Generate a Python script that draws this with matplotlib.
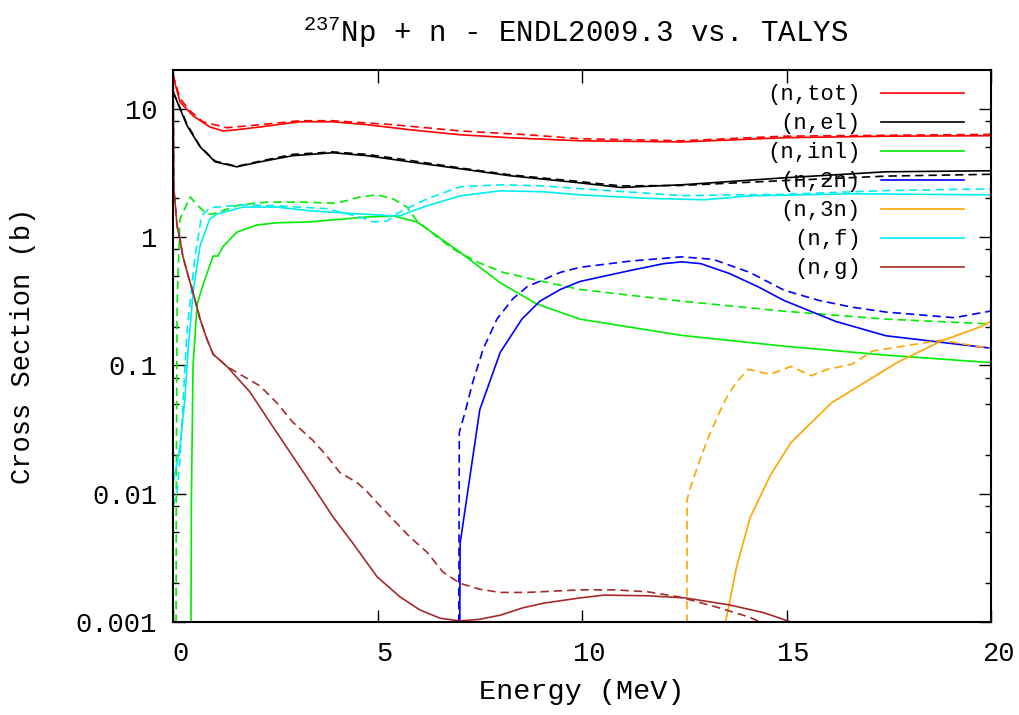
import matplotlib
matplotlib.use("Agg")
import matplotlib.pyplot as plt
from matplotlib.ticker import FixedLocator, FixedFormatter, NullFormatter
from matplotlib.transforms import ScaledTranslation

# ---- cross-section data: energy in MeV, cross section in barns ----
# (n,tot)
tot_endl_E = [0.0, 0.17, 0.49, 0.90, 1.22, 1.56, 2.13, 3.1, 3.9, 4.74, 5.79, 7.02, 8.24, 9.95, 12.44, 14.94, 17.43, 20.0]
tot_endl = [18.0, 11.3, 8.8, 7.2, 6.7, 6.85, 7.2, 7.9, 7.9, 7.5, 6.85, 6.26, 5.93, 5.62, 5.5, 5.93, 6.1, 6.15]
tot_talys_E = [0.0, 0.17, 0.42, 0.73, 1.32, 2.13, 3.1, 3.9, 5.38, 7.02, 8.66, 9.95, 12.44, 14.94, 17.43, 20.0]
tot_talys = [18.5, 12.0, 9.6, 7.9, 7.1, 7.5, 8.05, 8.05, 7.5, 6.7, 6.26, 5.83, 5.62, 6.1, 6.2, 6.3]

# (n,el)
el_E = [0.0, 0.34, 0.66, 1.03, 1.56, 2.13, 2.93, 3.91, 4.74, 5.79, 7.02, 8.24, 9.95, 10.95, 12.44, 14.94, 17.43, 20.0]
el_endl = [13.6, 7.4, 5.05, 3.85, 3.52, 3.85, 4.3, 4.53, 4.3, 3.85, 3.4, 3.0, 2.64, 2.43, 2.55, 2.89, 3.22, 3.28]
el_talys = [13.6, 7.6, 5.1, 3.9, 3.55, 3.9, 4.4, 4.6, 4.4, 3.95, 3.45, 3.05, 2.7, 2.5, 2.52, 2.75, 2.98, 3.08]

# (n,inl)
inl_endl_E = [0.43, 0.45, 0.49, 0.59, 0.73, 0.98, 1.1, 1.22, 1.56, 2.05, 2.54, 3.35, 3.91, 4.74, 5.38, 5.97, 7.02, 8.0, 8.9, 9.95, 12.44, 14.94, 17.43, 20.0]
inl_endl = [1e-4, 0.009, 0.1, 0.3, 0.42, 0.71, 0.71, 0.84, 1.09, 1.24, 1.29, 1.31, 1.36, 1.43, 1.46, 1.31, 0.76, 0.44, 0.30, 0.229, 0.171, 0.141, 0.12, 0.105]
inl_talys_E = [0.07, 0.08, 0.1, 0.17, 0.42, 0.61, 0.83, 0.98, 1.63, 2.3, 3.18, 4.0, 4.57, 4.99, 5.38, 5.72, 5.97, 6.46, 6.85, 7.43, 8.07, 8.9, 9.95, 12.44, 14.94, 17.43, 20.0]
inl_talys = [1e-4, 0.01, 0.3, 1.38, 2.05, 1.75, 1.51, 1.51, 1.78, 1.87, 1.87, 1.83, 2.05, 2.13, 1.98, 1.71, 1.33, 1.0, 0.805, 0.64, 0.53, 0.46, 0.39, 0.316, 0.264, 0.229, 0.21]

# (n,2n)
n2n_endl_E = [7.0, 7.02, 7.5, 8.0, 8.53, 8.97, 9.47, 9.95, 11.2, 12.0, 12.44, 12.9, 13.6, 14.3, 14.94, 16.2, 17.43, 20.0]
n2n_endl = [1e-4, 0.0041, 0.045, 0.126, 0.229, 0.316, 0.39, 0.45, 0.55, 0.62, 0.64, 0.62, 0.52, 0.41, 0.32, 0.22, 0.17, 0.136]
n2n_talys_E = [6.98, 7.0, 7.14, 7.33, 7.58, 7.92, 8.31, 8.66, 9.47, 9.95, 11.2, 12.44, 13.2, 14.1, 14.94, 15.8, 16.6, 17.43, 19.1, 20.0]
n2n_talys = [1e-4, 0.03, 0.043, 0.074, 0.133, 0.229, 0.33, 0.41, 0.53, 0.58, 0.65, 0.7, 0.67, 0.53, 0.385, 0.32, 0.284, 0.26, 0.235, 0.265]

# (n,3n)
n3n_endl_E = [13.45, 13.51, 13.78, 14.11, 14.61, 15.11, 16.1, 17.1, 17.7, 18.77, 19.75, 20.0]
n3n_endl = [1e-4, 0.001, 0.0027, 0.0065, 0.014, 0.025, 0.051, 0.08, 0.105, 0.154, 0.2, 0.22]
n3n_talys_E = [12.56, 12.57, 12.62, 12.86, 13.1, 13.36, 13.57, 13.78, 14.06, 14.6, 15.11, 15.6, 16.0, 16.6, 17.1, 17.8, 18.77, 20.0]
n3n_talys = [1e-4, 0.009, 0.0104, 0.0175, 0.028, 0.043, 0.059, 0.074, 0.093, 0.085, 0.098, 0.083, 0.093, 0.102, 0.129, 0.14, 0.157, 0.135]

# (n,f)
nf_endl_E = [0.0, 0.05, 0.17, 0.29, 0.37, 0.42, 0.49, 0.66, 0.9, 1.08, 1.71, 2.54, 3.35, 4.16, 5.38, 5.55, 5.87, 6.21, 7.02, 8.0, 9.05, 9.95, 11.6, 13.0, 14.1, 16.6, 20.0]
nf_endl = [0.012, 0.0146, 0.023, 0.054, 0.133, 0.2, 0.37, 0.85, 1.38, 1.51, 1.71, 1.71, 1.6, 1.54, 1.46, 1.46, 1.6, 1.75, 2.09, 2.29, 2.25, 2.13, 2.0, 1.95, 2.09, 2.17, 2.13]
nf_talys_E = [0.0, 0.1, 0.17, 0.25, 0.34, 0.54, 0.7, 0.9, 1.71, 2.54, 3.77, 4.57, 4.9, 5.23, 5.55, 6.21, 7.02, 8.0, 9.05, 9.95, 12.44, 14.94, 17.43, 20.0]
nf_talys = [0.008, 0.0103, 0.0186, 0.054, 0.18, 0.71, 1.46, 1.69, 1.78, 1.75, 1.66, 1.43, 1.31, 1.33, 1.57, 1.98, 2.46, 2.55, 2.5, 2.38, 2.1, 2.15, 2.3, 2.37]

# (n,g)
ng_endl_E = [0.0, 0.02, 0.1, 0.17, 0.24, 0.37, 0.49, 0.66, 0.83, 0.98, 1.32, 1.88, 2.37, 2.93, 3.42, 3.91, 4.4, 4.99, 5.55, 6.04, 6.53, 7.02, 7.5, 8.0, 8.56, 9.05, 9.95, 10.54, 11.6, 12.52, 13.6, 14.45, 15.11, 16.0]
ng_endl = [30, 2.4, 1.22, 0.96, 0.71, 0.5, 0.37, 0.23, 0.16, 0.122, 0.098, 0.062, 0.036, 0.0195, 0.0114, 0.0066, 0.0041, 0.00225, 0.00157, 0.00124, 0.00107, 0.00102, 0.00105, 0.00113, 0.00129, 0.0014, 0.00154, 0.00162, 0.0016, 0.00154, 0.00136, 0.00118, 0.001, 0.0008]
ng_talys_E = [0.0, 0.02, 0.1, 0.17, 0.24, 0.37, 0.49, 0.66, 0.83, 0.98, 1.32, 1.64, 2.13, 2.54, 2.93, 3.42, 3.77, 4.08, 4.5, 4.74, 4.99, 5.38, 5.79, 6.21, 6.6, 7.02, 7.5, 8.0, 8.66, 9.95, 10.8, 11.6, 12.37, 13.28, 14.1, 14.35, 15.0]
ng_talys = [30, 2.4, 1.22, 0.96, 0.71, 0.5, 0.37, 0.23, 0.16, 0.122, 0.098, 0.085, 0.069, 0.051, 0.036, 0.026, 0.0195, 0.0146, 0.0122, 0.0104, 0.0085, 0.0063, 0.0046, 0.0035, 0.00245, 0.002, 0.0018, 0.0017, 0.0017, 0.00178, 0.00178, 0.00172, 0.00157, 0.00131, 0.00109, 0.001, 0.0008]

labels = ["(n,tot)", "(n,el)", "(n,inl)", "(n,2n)", "(n,3n)", "(n,f)", "(n,g)"]
colors = ["#ff0000", "#000000", "#00ee00", "#0000ff", "#ffa500", "#00eeee", "#a52a2a"]

x_ticks = [0, 5, 10, 15, 20]
y_ticks = [1e-3, 1e-2, 1e-1, 1, 10]
y_tick_labels = ["0.001", "0.01", "0.1", "1", "10"]

endl_sets = [(tot_endl_E, tot_endl), (el_E, el_endl), (inl_endl_E, inl_endl),
             (n2n_endl_E, n2n_endl), (n3n_endl_E, n3n_endl), (nf_endl_E, nf_endl),
             (ng_endl_E, ng_endl)]
talys_sets = [(tot_talys_E, tot_talys), (el_E, el_talys), (inl_talys_E, inl_talys),
              (n2n_talys_E, n2n_talys), (n3n_talys_E, n3n_talys), (nf_talys_E, nf_talys),
              (ng_talys_E, ng_talys)]

plt.rcParams["font.family"] = ["Liberation Mono", "DejaVu Sans Mono"]
plt.rcParams["mathtext.fontset"] = "custom"
plt.rcParams["mathtext.rm"] = "Liberation Mono"

W, H = 1020, 715
fig = plt.figure(figsize=(W / 100, H / 100), dpi=100)
ax = fig.add_axes([173 / W, 1 - 622 / H, (991 - 173) / W, (622 - 70) / H])

handles = []
for (e, s), (et, st), lab, col in zip(endl_sets, talys_sets, labels, colors):
    h, = ax.plot(e, s, color=col, lw=1.2, label=lab)
    ax.plot(et, st, color=col, lw=1.2, dashes=(5, 3))
    handles.append(h)

ax.set_yscale("log")
ax.set_xlim(0, 20)
ax.set_ylim(1e-3, 20)

ax.xaxis.set_major_locator(FixedLocator(x_ticks))
ax.yaxis.set_major_locator(FixedLocator(y_ticks))
ax.yaxis.set_major_formatter(FixedFormatter(y_tick_labels))
minor = [m * 10.0 ** d for d in range(-3, 2) for m in (2, 5, 8)]
ax.yaxis.set_minor_locator(FixedLocator([v for v in minor if v < 20]))
ax.yaxis.set_minor_formatter(NullFormatter())
ax.tick_params(which="both", direction="in", top=True, right=True, width=1.0)
ax.tick_params(which="major", length=9, labelsize=19.5)
ax.tick_params(which="minor", length=4.5)
ax.tick_params(axis="x", pad=14)
ax.tick_params(axis="y", pad=11.5)
for sp in ax.spines.values():
    sp.set_linewidth(1.5)

# x tick labels sit a little to the right of their ticks
shift = ScaledTranslation(7 / 100, 0, fig.dpi_scale_trans)
for lbl in ax.get_xticklabels():
    lbl.set_transform(lbl.get_transform() + shift)

ax.set_xlabel("Energy (MeV)", fontsize=20.5, labelpad=8)
ax.set_ylabel("Cross Section (b)", fontsize=19.5)
ax.yaxis.set_label_coords(-0.168, 0.5)
fig.text(576 / W, 1 - 32 / H, "$^{237}$Np + n - ENDL2009.3 vs. TALYS",
         fontsize=21, ha="center", va="center")

ax.legend(handles=handles, loc="upper right", bbox_to_anchor=(0.967, 0.974),
          frameon=False, markerfirst=False, fontsize=16, handlelength=3.75,
          handletextpad=0.9, labelspacing=0.36, borderpad=0, borderaxespad=0)

fig.savefig("out.png", dpi=100)
